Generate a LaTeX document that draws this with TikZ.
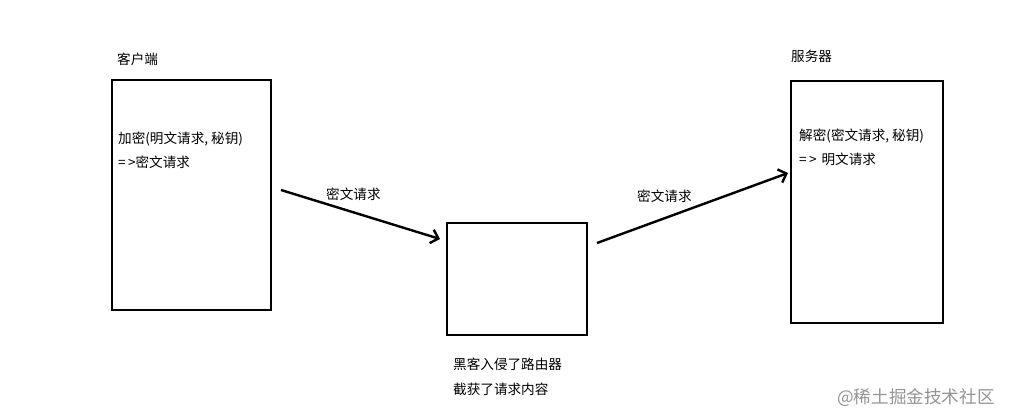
\documentclass[tikz,border=0pt]{standalone}
\usepackage{fontspec}
\setmainfont{Noto Sans CJK SC}
\usetikzlibrary{arrows.meta}
\usetikzlibrary{calc}

\begin{document}
\begin{tikzpicture}[x=1pt,y=-1pt]
	\tikzstyle{every node}+=[inner sep=0pt]
	\tikzstyle{box}=[draw,line width=2pt,anchor=north west]
	\tikzstyle{txt}=[anchor=west,font=\fontsize{13.6pt}{15pt}\selectfont]
	\tikzstyle{msg}=[line width=2.4pt,-{Straight Barb[length=7pt,width=14pt,line width=2.4pt]}]
	\useasboundingbox (0,0) rectangle (1013,418);
	% boxes
	\node[box,minimum width=159pt,minimum height=230pt] (client) at (111,79) {};
	\node[box,minimum width=140pt,minimum height=112pt] (router) at (446,222) {};
	\node[box,minimum width=152pt,minimum height=242pt] (server) at (790,80) {};
	% texts
	\node[txt] (clientname) at (117,59) {客户端};
	\node[txt] (enc) at (118,139) {加密(明文请求, 秘钥)};
	\node[txt] (enc2) at (118,162) {=\,>密文请求};
	\node[txt] (servername) at (791,56) {服务器};
	\node[txt] (dec) at (799,136) {解密(密文请求, 秘钥)};
	\node[txt] (dec2) at (799,159) {=\,>\hspace{5pt}明文请求};
	\node[txt] (hack) at (453,364) {黑客入侵了路由器};
	\node[txt] (hack2) at (453,389) {截获了请求内容};
	\node[anchor=west,text=black!42,font=\fontsize{17.6pt}{19pt}\selectfont] (mark) at (837,398) {@稀土掘金技术社区};
	% connectors
	\coordinate (a1) at ($(client.north east)+(9,111)$);
	\coordinate (b1) at ($(router.north west)+(-6,17)$);
	\coordinate (a2) at ($(router.north east)+(9,21)$);
	\coordinate (b2) at ($(server.north west)+(-2,93)$);
	\draw[msg] (a1) -- (b1);
	\draw[msg] (a2) -- (b2);
	\node[txt] (m1) at (326,194) {密文请求};
	\node[txt] (m2) at (637,196) {密文请求};
\end{tikzpicture}
\end{document}
